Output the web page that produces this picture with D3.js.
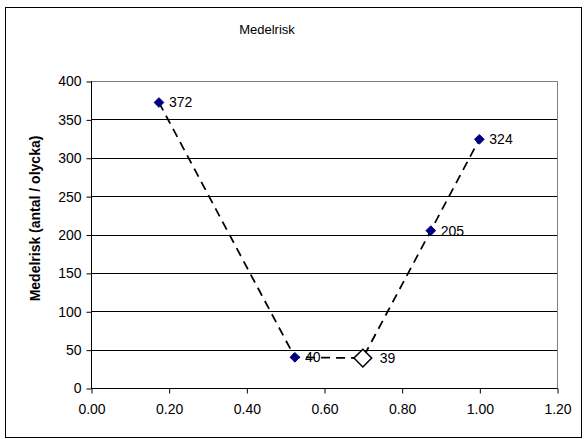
<!DOCTYPE html>
<html><head><meta charset="utf-8">
<script src="https://cdn.jsdelivr.net/npm/d3@7"></script>
<style>body{margin:0;background:#fff}svg{display:block}text{font-family:"Liberation Sans",Arial,sans-serif}</style>
</head><body><svg id="c" width="587" height="439"></svg>
<script>
const xValues = [0.175, 0.525, 0.70, 0.875, 1.0];
const yValues = [372, 40, 39, 205, 324];
const labels = ["372", "40", "39", "205", "324"];
const highlighted = [false, false, true, false, false];
const xTicks = [0, 0.2, 0.4, 0.6, 0.8, 1.0, 1.2];
const yTicks = [0, 50, 100, 150, 200, 250, 300, 350, 400];
const title = "Medelrisk";
const yTitle = "Medelrisk (antal / olycka)";

const svg = d3.select("#c");
svg.append("rect").attr("x", 5.5).attr("y", 7.5).attr("width", 576).attr("height", 430)
  .attr("fill", "#fff").attr("stroke", "#000").attr("stroke-width", 1);

const L = 91, R = 557, T = 81, B = 388;
const x = d3.scaleLinear().domain([0, 1.2]).range([L, R]);
const y = d3.scaleLinear().domain([0, 400]).range([B, T]);

svg.append("text").attr("x", 267).attr("y", 34).attr("text-anchor", "middle")
  .attr("font-size", 13).text(title);

// plot area border
svg.append("rect").attr("x", L + 0.5).attr("y", T + 0.5).attr("width", R - L).attr("height", B - T)
  .attr("fill", "none").attr("stroke", "#808080").attr("stroke-width", 1);

// gridlines
svg.append("g").selectAll("line").data(yTicks.filter(d => d > 0 && d < 400)).join("line")
  .attr("x1", L).attr("x2", R).attr("y1", d => Math.round(y(d)) + 0.5).attr("y2", d => Math.round(y(d)) + 0.5)
  .attr("stroke", "#000").attr("stroke-width", 1);

// y axis
const yAxis = d3.axisLeft(y).tickValues(yTicks).tickSize(5).tickPadding(5).tickFormat(d3.format("d"));
const gy = svg.append("g").attr("transform", `translate(${L + 0.5},0.5)`).call(yAxis);
gy.selectAll("text").attr("font-size", 14).attr("fill", "#000").attr("font-family", "Liberation Sans, Arial, sans-serif");
gy.selectAll("line,path").attr("stroke", "#000");
gy.select(".domain").attr("d", `M0,${T - 0.5}V${B}`);

// x axis
const xAxis = d3.axisBottom(x).tickValues(xTicks).tickSize(5).tickPadding(11).tickFormat(d3.format(".2f"));
const gx = svg.append("g").attr("transform", `translate(0.5,${B + 0.5})`).call(xAxis);
gx.selectAll("text").attr("font-size", 14).attr("fill", "#000").attr("font-family", "Liberation Sans, Arial, sans-serif");
gx.selectAll("line,path").attr("stroke", "#000");
gx.select(".domain").attr("d", `M${L},0H${R}`);

// y title
svg.append("text").attr("transform", `translate(40,${(T + B) / 2 - 16}) rotate(-90)`)
  .attr("text-anchor", "middle").attr("font-size", 14).attr("font-weight", "bold").text(yTitle);

const pts = xValues.map((v, i) => ({x: v, y: yValues[i], label: labels[i], hi: highlighted[i]}));

// dashed line
svg.append("path").datum(pts)
  .attr("d", d3.line().x(d => x(d.x)).y(d => y(d.y)))
  .attr("fill", "none").attr("stroke", "#000").attr("stroke-width", 1.75).attr("stroke-dasharray", "9,6");

// markers
const small = d3.symbol().type(d3.symbolDiamond2).size(60);
const big = d3.symbol().type(d3.symbolDiamond2).size(200);
svg.append("g").selectAll("path").data(pts).join("path")
  .attr("transform", d => `translate(${x(d.x)},${y(d.y)})`)
  .attr("d", d => d.hi ? big() : small())
  .attr("fill", d => d.hi ? "#fff" : "#000080")
  .attr("stroke", d => d.hi ? "#000" : "#000080")
  .attr("stroke-width", d => d.hi ? 1.5 : 1);

// labels
svg.append("g").selectAll("text").data(pts).join("text")
  .attr("x", d => x(d.x) + (d.hi ? 17 : 10)).attr("y", d => y(d.y) + 5)
  .attr("font-size", 14).text(d => d.label);
</script></body></html>
